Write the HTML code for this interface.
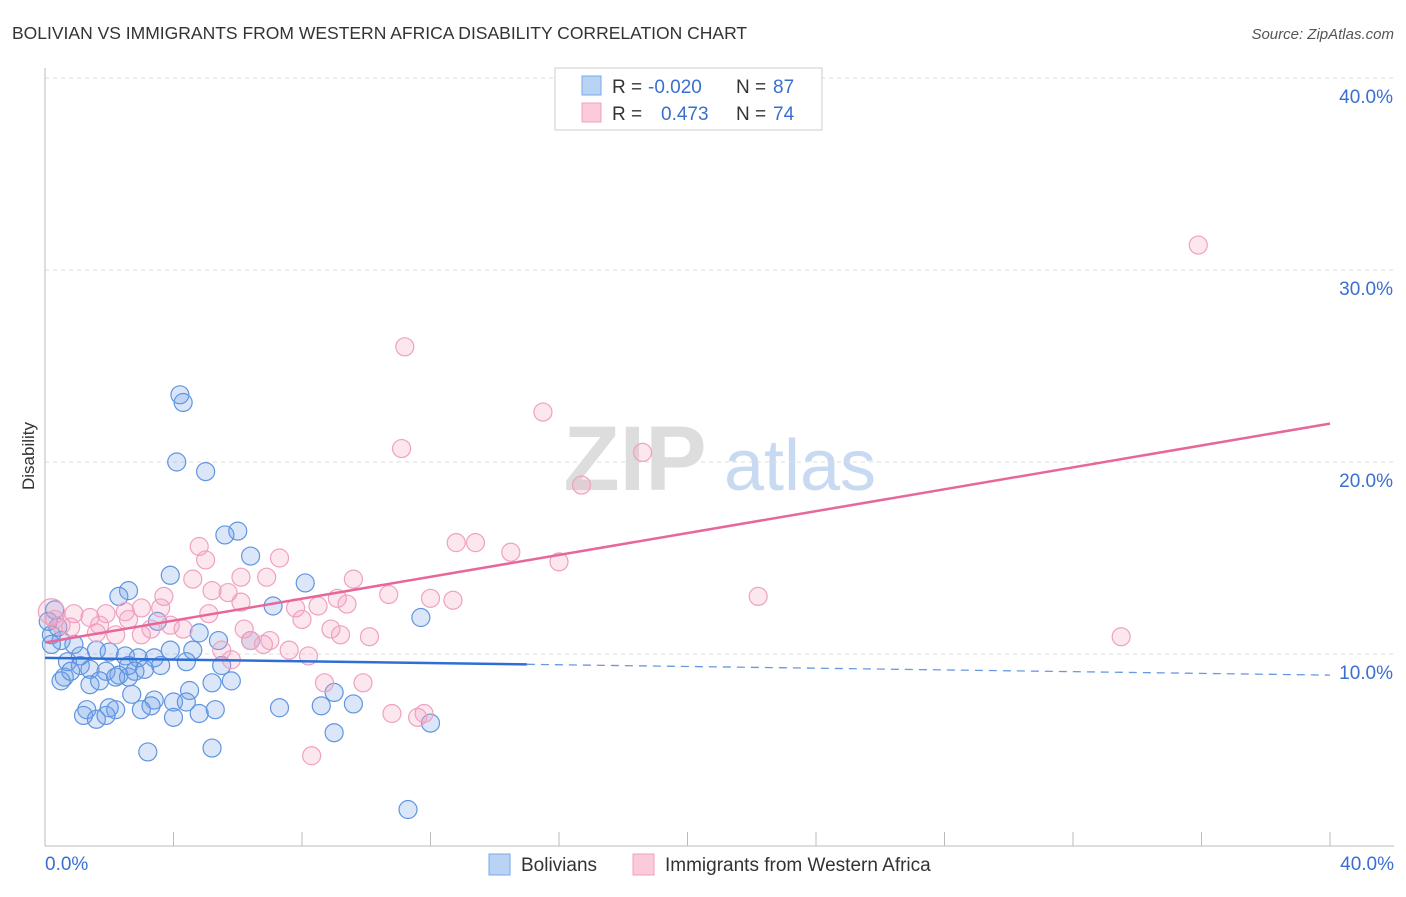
<!DOCTYPE html>
<html><head><meta charset="utf-8"><style>
body{margin:0;background:#fff;font-family:"Liberation Sans",sans-serif;}
svg text{font-family:"Liberation Sans",sans-serif;}
</style></head><body>
<svg id="c" width="1406" height="892" xmlns="http://www.w3.org/2000/svg">
<text x="12" y="39" font-size="17.5" fill="#333">BOLIVIAN VS IMMIGRANTS FROM WESTERN AFRICA DISABILITY CORRELATION CHART</text>
<text x="1394" y="39" font-size="15" fill="#555" text-anchor="end" font-style="italic">Source: ZipAtlas.com</text>
<g>
<text x="635" y="490" font-size="92" fill="#ddd" font-family="Liberation Serif" text-anchor="middle" font-weight="bold">ZIP</text>
<text x="800" y="490" font-size="72" fill="#c8daf2" text-anchor="middle">atlas</text>
</g>
<g id="grid"></g><g id="axes"></g><g id="pts"></g><g id="lines"></g>
<text transform="translate(34,456) rotate(-90)" font-size="17" fill="#333" text-anchor="middle">Disability</text>
<g>
<rect x="555" y="68" width="267" height="62" fill="#fff" stroke="#ccc"/>
<rect x="582" y="76" width="19" height="19" fill="#b9d3f5" stroke="#7aa8e8"/>
<rect x="582" y="103" width="19" height="19" fill="#fbcadb" stroke="#f0a0c0"/>
<text x="612" y="93" font-size="19" fill="#333">R =</text>
<text x="648" y="93" font-size="19" fill="#3a6fd0">-0.020</text>
<text x="736" y="93" font-size="19" fill="#333">N =</text>
<text x="773" y="93" font-size="19" fill="#3a6fd0">87</text>
<text x="612" y="120" font-size="19" fill="#333">R =</text>
<text x="661" y="120" font-size="19" fill="#3a6fd0">0.473</text>
<text x="736" y="120" font-size="19" fill="#333">N =</text>
<text x="773" y="120" font-size="19" fill="#3a6fd0">74</text>
</g>
<g>
<rect x="489" y="854" width="21" height="21" fill="#b9d3f5" stroke="#7aa8e8"/>
<text x="521" y="871" font-size="19" fill="#333">Bolivians</text>
<rect x="633" y="854" width="21" height="21" fill="#fbcadb" stroke="#f0a0c0"/>
<text x="665" y="871" font-size="19" fill="#333">Immigrants from Western Africa</text>
</g>
</svg>
<script>
const yTicks=[10,20,30,40];
const blueX=[4.2,4.3,4.1,5.0,6.0,5.6,6.4,3.9,8.1,2.6,2.3,7.1,3.5,11.7,4.8,0.4,0.1,0.2,0.5,0.9,1.6,2.0,2.5,2.9,3.4,3.9,4.6,5.4,6.4,0.7,1.1,1.4,1.9,2.3,2.8,3.1,3.6,4.4,5.5,0.6,1.4,1.7,2.2,2.6,5.2,4.5,2.7,3.4,4.0,4.4,3.0,3.3,2.2,2.0,1.3,1.2,1.6,1.9,5.8,7.3,8.6,9.6,9.0,5.3,4.8,4.0,9.0,12.0,3.2,5.2,11.3,0.5,0.8,1.1,2.6,0.2,0.3];
const blueY=[23.5,23.1,20.0,19.5,16.4,16.2,15.1,14.1,13.7,13.3,13.0,12.5,11.7,11.9,11.1,11.4,11.7,11.0,10.7,10.5,10.2,10.1,9.9,9.8,9.8,10.2,10.2,10.7,10.7,9.6,9.4,9.2,9.1,8.9,9.1,9.2,9.4,9.6,9.4,8.8,8.4,8.6,8.8,8.8,8.5,8.1,7.9,7.6,7.5,7.5,7.1,7.3,7.1,7.2,7.1,6.8,6.6,6.8,8.6,7.2,7.3,7.4,8.0,7.1,6.9,6.7,5.9,6.4,4.9,5.1,1.9,8.6,9.1,9.9,9.4,10.5,12.3];
const pinkX=[35.9,11.2,15.5,11.1,18.6,16.7,12.8,13.4,14.5,16.0,4.8,5.0,7.3,6.1,4.6,9.6,6.9,22.2,33.5,9.1,10.7,12.0,12.7,3.7,5.2,5.7,6.1,8.5,9.4,7.8,3.0,2.5,1.9,0.9,1.4,0.2,3.6,5.1,8.0,3.9,4.3,6.2,8.9,9.2,10.1,3.3,1.7,2.6,6.4,7.0,6.8,5.5,7.6,8.2,5.8,0.5,2.2,3.0,8.7,9.9,10.8,11.6,11.8,8.3,1.6,0.3,0.8];
const pinkY=[31.3,26.0,22.6,20.7,20.5,18.8,15.8,15.8,15.3,14.8,15.6,14.9,15.0,14.0,13.9,13.9,14.0,13.0,10.9,12.9,13.1,12.9,12.8,13.0,13.3,13.2,12.7,12.5,12.6,12.4,12.4,12.2,12.1,12.1,11.9,12.2,12.4,12.1,11.8,11.5,11.3,11.3,11.3,11.0,10.9,11.3,11.5,11.8,10.7,10.7,10.5,10.2,10.2,9.9,9.7,11.5,11.0,11.0,8.5,8.5,6.9,6.7,6.9,4.7,11.1,11.8,11.4];
const blueTrend=[9.8,8.9], pinkTrend=[10.6,22.0];
const NS='http://www.w3.org/2000/svg';
const sx=v=>45+v*32.125, sy=v=>846-v*19.2;
function mk(t,a,p){const e=document.createElementNS(NS,t);for(const k in a)e.setAttribute(k,a[k]);document.getElementById(p).appendChild(e);return e;}
yTicks.forEach(t=>{
 const g=mk('line',{x1:45,x2:1394,y1:sy(t),y2:sy(t),stroke:'#ddd','stroke-dasharray':'4,4'},'grid');
 
 
 const tx=mk('text',{x:1393,y:sy(t)+25,'font-size':19,fill:'#3a6fd0','text-anchor':'end'},'axes');
 tx.textContent=t.toFixed(1)+'%';
 
 
});
let ax=mk('line',{x1:45,x2:1394,y1:846,y2:846,stroke:'#bbb'},'axes');


let ay=mk('line',{x1:45,x2:45,y1:68,y2:846,stroke:'#bbb'},'axes');


for(let i=0;i<=10;i++){const l=mk('line',{x1:sx(i*4),x2:sx(i*4),y1:832,y2:846,stroke:'#bbb'},'axes');
 
 }
let x0=mk('text',{x:45,y:870,'font-size':19,fill:'#3a6fd0'},'axes');x0.textContent='0.0%';


let x1=mk('text',{x:1394,y:870,'font-size':19,fill:'#3a6fd0','text-anchor':'end'},'axes');x1.textContent='40.0%';


blueX.forEach((v,i)=>{const c=mk('circle',{cx:sx(v),cy:sy(blueY[i]),r:9,fill:'rgba(110,160,230,0.25)',stroke:'#5f95e0','stroke-width':1.2},'pts');
 
 });
pinkX.forEach((v,i)=>{const c=mk('circle',{cx:sx(v),cy:sy(pinkY[i]),r:i==35?13:9,fill:'rgba(245,160,190,0.25)',stroke:'#f0a0c0','stroke-width':1.2},'pts');
 
 });
const bAt=x=>blueTrend[0]+(blueTrend[1]-blueTrend[0])*x/40;
let b1=mk('line',{x1:sx(0),y1:sy(bAt(0)),x2:sx(15),y2:sy(bAt(15)),stroke:'#2e6fd6','stroke-width':2.5},'lines');


let b2=mk('line',{x1:sx(15),y1:sy(bAt(15)),x2:sx(40),y2:sy(bAt(40)),stroke:'#6a98e0','stroke-width':1.3,'stroke-dasharray':'8,6'},'lines');


let p1=mk('line',{x1:sx(0),y1:sy(pinkTrend[0]),x2:sx(40),y2:sy(pinkTrend[1]),stroke:'#e8679a','stroke-width':2.5},'lines');


</script>
</body></html>
